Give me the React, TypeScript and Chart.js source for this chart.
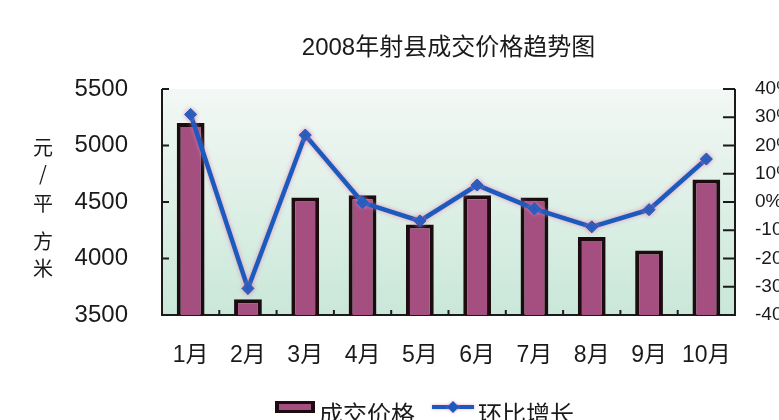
import React, { useEffect, useRef } from "react";
import { Chart, registerables } from "chart.js";

Chart.register(...registerables);

const chartTitle = "2008年射县成交价格趋势图";
const months = ["1月", "2月", "3月", "4月", "5月", "6月", "7月", "8月", "9月", "10月"];
const prices = [5200, 3640, 4540, 4560, 4300, 4560, 4540, 4190, 4070, 4700];
const growth = [31.0, -30.6, 23.7, -0.2, -6.7, 6.0, -2.4, -8.8, -2.7, 15.2];
const priceRange = [3500, 5500];
const priceStep = 500;
const growthRange = [-40, 40];
const growthStep = 10;
const yTitleChars = ["元", "/", "平", "方", "米"];
const seriesNames = ["成交价格", "环比增长"];

const W = 779;
const H = 420;
const LATIN = "'Liberation Sans', 'Noto Sans CJK SC', sans-serif";
const CJK = "'Noto Sans CJK SC', sans-serif";
const BAR_FILL = "#a44f80";
const BAR_BORDER = "#1c0c10";
const LINE_COLOR = "#1b5bbd";
const AXIS_COLOR = "#1a1a1a";

const decorPlugin = {
  id: "decor",
  beforeDraw(chart: any) {
    const { ctx, chartArea } = chart;
    ctx.save();
    ctx.fillStyle = "#ffffff";
    ctx.fillRect(0, 0, chart.width, chart.height);
    const g = ctx.createLinearGradient(0, chartArea.top, 0, chartArea.bottom);
    g.addColorStop(0, "#f3f8f4");
    g.addColorStop(1, "#c9e7d9");
    ctx.fillStyle = g;
    ctx.fillRect(chartArea.left, chartArea.top, chartArea.right - chartArea.left, chartArea.bottom - chartArea.top);
    ctx.restore();
  },
  beforeDatasetsDraw(chart: any) {
    const { ctx, chartArea, scales } = chart;
    const { left, right, top, bottom } = chartArea;
    ctx.save();
    ctx.strokeStyle = AXIS_COLOR;
    ctx.lineWidth = 2;
    ctx.beginPath();
    ctx.moveTo(left, top);
    ctx.lineTo(left, bottom);
    ctx.moveTo(right, top);
    ctx.lineTo(right, bottom);
    ctx.moveTo(left - 1, bottom);
    ctx.lineTo(right + 1, bottom);
    scales.y.ticks.forEach((t: any) => {
      const y = scales.y.getPixelForValue(t.value);
      ctx.moveTo(left, y);
      ctx.lineTo(left + 7, y);
    });
    scales.y1.ticks.forEach((t: any) => {
      const y = scales.y1.getPixelForValue(t.value);
      ctx.moveTo(right - 12, y);
      ctx.lineTo(right, y);
    });
    for (let i = 1; i < months.length; i++) {
      const x = (scales.x.getPixelForValue(i - 1) + scales.x.getPixelForValue(i)) / 2;
      ctx.moveTo(x, bottom);
      ctx.lineTo(x, bottom - 5);
    }
    ctx.stroke();
    ctx.restore();
  },
  beforeDatasetDraw(chart: any, args: any) {
    if (args.meta.type === "line") {
      chart.ctx.save();
      chart.ctx.shadowColor = "rgba(235,120,175,0.75)";
      chart.ctx.shadowBlur = 4;
    }
  },
  afterDatasetDraw(chart: any, args: any) {
    if (args.meta.type === "line") {
      chart.ctx.restore();
    }
  },
  afterDraw(chart: any) {
    const { ctx, chartArea } = chart;
    ctx.save();
    ctx.fillStyle = "#1a1a1a";
    ctx.font = `24px ${LATIN}`;
    ctx.textAlign = "center";
    ctx.textBaseline = "middle";
    ctx.fillText(chartTitle, (chartArea.left + chartArea.right) / 2, 48);
    ctx.font = `20px ${CJK}`;
    const ys = [147, 173, 203, 241, 268];
    yTitleChars.forEach((c, i) => ctx.fillText(c, 43, ys[i]));
    const ly = 407;
    const datasets = chart.data.datasets;
    ctx.fillStyle = BAR_BORDER;
    ctx.fillRect(275, ly - 6, 40, 12);
    ctx.fillStyle = BAR_FILL;
    ctx.fillRect(279, ly - 3, 32, 6);
    ctx.fillStyle = "#1a1a1a";
    ctx.font = `24px ${CJK}`;
    ctx.textAlign = "left";
    ctx.fillText(datasets[1].label, 319, ly + 7);
    ctx.save();
    ctx.shadowColor = "rgba(235,120,175,0.75)";
    ctx.shadowBlur = 3;
    ctx.strokeStyle = LINE_COLOR;
    ctx.lineWidth = 4;
    ctx.beginPath();
    ctx.moveTo(432, ly);
    ctx.lineTo(474, ly);
    ctx.stroke();
    ctx.fillStyle = LINE_COLOR;
    ctx.beginPath();
    ctx.moveTo(453, ly - 6);
    ctx.lineTo(459, ly);
    ctx.lineTo(453, ly + 6);
    ctx.lineTo(447, ly);
    ctx.closePath();
    ctx.fill();
    ctx.restore();
    ctx.fillStyle = "#1a1a1a";
    ctx.fillText(datasets[0].label, 478, ly + 7);
    ctx.restore();
  },
};

export default function App() {
  const ref = useRef<HTMLCanvasElement | null>(null);

  useEffect(() => {
    if (!ref.current) return;
    const chart = new Chart(ref.current, {
      type: "bar",
      data: {
        labels: months,
        datasets: [
          {
            type: "line",
            label: seriesNames[1],
            data: growth,
            yAxisID: "y1",
            order: 0,
            borderColor: LINE_COLOR,
            backgroundColor: LINE_COLOR,
            borderWidth: 4.5,
            pointStyle: "rectRot",
            pointRadius: 6,
            pointBackgroundColor: LINE_COLOR,
            pointBorderColor: LINE_COLOR,
            pointBorderWidth: 1,
            tension: 0,
          } as any,
          {
            type: "bar",
            label: seriesNames[0],
            data: prices,
            yAxisID: "y",
            order: 1,
            backgroundColor: BAR_FILL,
            borderColor: BAR_BORDER,
            borderWidth: 4,
            borderSkipped: "start",
            categoryPercentage: 1,
            barPercentage: 0.485,
          } as any,
        ],
      },
      options: {
        responsive: false,
        animation: false,
        layout: { padding: { top: 89, left: 0, right: 0, bottom: 0 } },
        plugins: {
          legend: { display: false },
          title: { display: false },
          tooltip: { enabled: false },
        },
        scales: {
          x: {
            type: "category",
            position: "bottom",
            grid: { display: false, drawTicks: false },
            border: { display: false },
            ticks: {
              color: "#1a1a1a",
              font: { family: LATIN, size: 23 },
              padding: 27,
              maxRotation: 0,
              autoSkip: false,
            },
            afterFit: (s: any) => {
              s.height = H - 315;
            },
          },
          y: {
            type: "linear",
            position: "left",
            min: priceRange[0],
            max: priceRange[1],
            grid: { display: false, drawTicks: false },
            border: { display: false },
            ticks: {
              stepSize: priceStep,
              color: "#1a1a1a",
              font: { family: LATIN, size: 24 },
              padding: 34,
              callback: (v: any) => String(v),
            },
            afterFit: (s: any) => {
              s.width = 162;
            },
          },
          y1: {
            type: "linear",
            position: "right",
            min: growthRange[0],
            max: growthRange[1],
            grid: { display: false, drawTicks: false },
            border: { display: false },
            ticks: {
              stepSize: growthStep,
              color: "#1a1a1a",
              font: { family: LATIN, size: 19 },
              padding: 20,
              callback: (v: any) => `${v}%`,
            },
            afterFit: (s: any) => {
              s.width = W - 735;
            },
          },
        },
      },
      plugins: [decorPlugin],
    });
    return () => chart.destroy();
  }, []);

  return (
    <div style={{ position: "fixed", left: 0, top: 0, width: W, height: H, background: "#fff", overflow: "hidden" }}>
      <canvas ref={ref} width={W} height={H} style={{ display: "block", width: W, height: H }} />
    </div>
  );
}
